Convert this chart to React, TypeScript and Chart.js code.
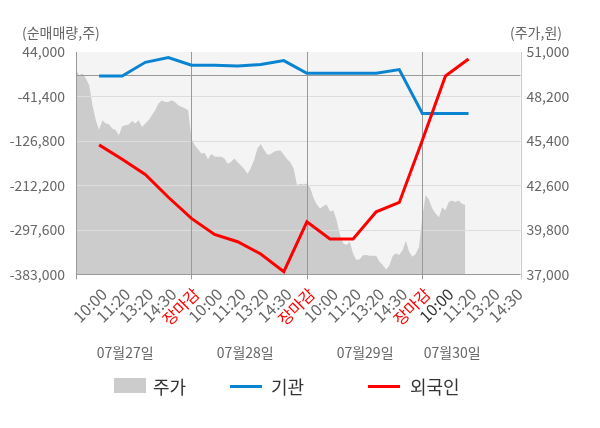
import { useEffect, useRef } from "react";
import { Chart, registerables, Plugin } from "chart.js";

Chart.register(...registerables);

const FONT = "'Noto Sans CJK KR', 'Noto Sans', sans-serif";

// x axis: 5 label slots per trading day
const timeLabels = [
  "10:00", "11:20", "13:20", "14:30", "장마감",
  "10:00", "11:20", "13:20", "14:30", "장마감",
  "10:00", "11:20", "13:20", "14:30", "장마감",
  "10:00", "11:20", "13:20", "14:30",
];
const dateLabels = ["07월27일", "07월28일", "07월29일", "07월30일"];
const dateLabelPos = [2.13, 7.33, 12.52, 16.29];

const leftTicks = [-383000, -297600, -212200, -126800, -41400, 44000];
const rightTicks = [37000, 39800, 42600, 45400, 48200, 51000];

// net buying (shares) at label slots 1..17
const instVals = [
  -2000, -2000, 24200, 33300, 18500, 18500, 17200, 19800, 27500,
  3100, 3100, 3100, 3100, 10200, -74200, -74200, -74200,
];
const foreignVals = [
  -134400, -162000, -191200, -235000, -275600, -306300, -320500, -344100, -378000,
  -282100, -315300, -315300, -262900, -244900, -125400, -2000, 30600,
];

// intraday price samples
const SAMPLES_PER_DAY = 35;
const priceDay1 = [
  49850, 49530, 49640, 49330, 48910, 47650, 46700, 46100, 46700, 46500,
  46450, 46180, 46080, 45760, 46330, 46390, 46440, 46650, 46500, 46700,
  46280, 46500, 46700, 47020, 47330, 47750, 47950, 47855, 47850, 47960,
  47850, 47650, 47540, 47460, 47330,
];
const priceDay2 = [
  45550, 45130, 44870, 44610, 44640, 44250, 44580, 44420, 44400, 44400,
  44290, 43960, 44080, 44290, 44050, 43850, 43630, 43330, 43700, 44200,
  44920, 45200, 44850, 44530, 44560, 44720, 44780, 44800, 44530, 44250,
  44050, 43650, 42620, 42700, 42650,
];
const priceDay3 = [
  42720, 42450, 41800, 41400, 41150, 41300, 41400, 40950, 41040, 40400,
  39500, 38950, 38840, 39050, 38300, 37900, 37950, 38200, 38210, 38170,
  38170, 38170, 37790, 37580, 37300, 37550, 38150, 38320, 38210, 38520,
  39110, 38420, 38100, 38300, 38730,
];
const priceDay4 = [
  40620, 42000, 41700, 41150, 40835, 40600, 41200, 41040, 41560, 41650,
  41560, 41650, 41450, 41360,
];

const DAY_SPAN = 5;
const priceData = [priceDay1, priceDay2, priceDay3, priceDay4].flatMap((day, d) =>
  day.map((v, i) => ({ x: d * DAY_SPAN + (i * DAY_SPAN) / SAMPLES_PER_DAY, y: v }))
);
const instData = instVals.map((v, i) => ({ x: i + 1, y: v }));
const foreignData = foreignVals.map((v, i) => ({ x: i + 1, y: v }));

const BLUE = "#0a84d0";
const RED = "#ff0000";

const framePlugin: Plugin<"line"> = {
  id: "frame",
  beforeDatasetsDraw(chart) {
    const { ctx, chartArea: a } = chart;
    ctx.save();
    ctx.fillStyle = "#f4f4f4";
    ctx.fillRect(a.left, a.top, a.right - a.left, a.bottom - a.top);
    ctx.restore();
  },
  afterDatasetDraw(chart, args) {
    if (args.index !== 0) return;
    const { ctx, chartArea: a } = chart;
    const y = chart.scales.y;
    const x = chart.scales.x;
    ctx.save();
    ctx.lineWidth = 1;
    const hline = (py: number, color: string) => {
      ctx.strokeStyle = color;
      ctx.beginPath();
      ctx.moveTo(a.left, Math.round(py) + 0.5);
      ctx.lineTo(a.right, Math.round(py) + 0.5);
      ctx.stroke();
    };
    const vline = (px: number, color: string) => {
      ctx.strokeStyle = color;
      ctx.beginPath();
      ctx.moveTo(Math.round(px) + 0.5, a.top);
      ctx.lineTo(Math.round(px) + 0.5, a.bottom + 5);
      ctx.stroke();
    };
    leftTicks.slice(1, -1).forEach((v) => hline(y.getPixelForValue(v), "#dddddd"));
    hline(y.getPixelForValue(0), "#999999");
    [0, 5, 10, 15].forEach((v) => vline(x.getPixelForValue(v), "#999999"));
    vline(a.right, "#cccccc");
    hline(a.bottom, "#999999");
    ctx.restore();
  },
  afterDraw(chart) {
    const { ctx } = chart;
    const x = chart.scales.x;
    ctx.save();
    ctx.fillStyle = "#666666";
    ctx.font = `14px ${FONT}`;
    ctx.textBaseline = "middle";
    ctx.textAlign = "left";
    ctx.fillText("(순매매량,주)", 22, 33);
    ctx.textAlign = "right";
    ctx.fillText("(주가,원)", 562, 33);
    ctx.textAlign = "center";
    dateLabels.forEach((d, i) => ctx.fillText(d, x.getPixelForValue(dateLabelPos[i]), 353));
    ctx.restore();
  },
};

function TradeChart() {
  const canvasRef = useRef<HTMLCanvasElement>(null);

  useEffect(() => {
    const ctx = canvasRef.current?.getContext("2d");
    if (!ctx) return;
    Chart.defaults.font.family = FONT;
    const chart = new Chart(ctx, {
      type: "line",
      data: {
        datasets: [
          {
            label: "주가",
            data: priceData,
            yAxisID: "y1",
            borderWidth: 0,
            borderColor: "#cccccc",
            backgroundColor: "#cccccc",
            fill: "start",
            pointRadius: 0,
            order: 3,
          },
          {
            label: "기관",
            data: instData,
            yAxisID: "y",
            borderColor: BLUE,
            backgroundColor: BLUE,
            borderWidth: 3,
            pointRadius: 0,
            fill: false,
            order: 2,
          },
          {
            label: "외국인",
            data: foreignData,
            yAxisID: "y",
            borderColor: RED,
            backgroundColor: RED,
            borderWidth: 3,
            pointRadius: 0,
            fill: false,
            order: 1,
          },
        ],
      },
      options: {
        responsive: false,
        animation: false,
        layout: { padding: { top: 52, left: 0, right: 0, bottom: 0 } },
        plugins: { legend: { display: false }, tooltip: { enabled: false } },
        scales: {
          x: {
            type: "linear",
            min: 0,
            max: 19.25,
            afterBuildTicks: (s) => {
              s.ticks = timeLabels.map((_, i) => ({ value: i + 1 }));
            },
            afterFit: (s) => {
              s.height = 153.7;
            },
            grid: { display: false, drawTicks: false },
            border: { display: false },
            ticks: {
              autoSkip: false,
              minRotation: 45,
              maxRotation: 45,
              padding: 10,
              labelOffset: 5,
              font: { size: 16 },
              color: (c) =>
                timeLabels[c.index] === "장마감" ? RED : c.index === 15 ? "#333333" : "#666666",
              callback: (_v, i) => timeLabels[i],
            },
          },
          y: {
            type: "linear",
            position: "left",
            min: leftTicks[0],
            max: leftTicks[leftTicks.length - 1],
            afterBuildTicks: (s) => {
              s.ticks = leftTicks.map((v) => ({ value: v }));
            },
            afterFit: (s) => {
              s.width = 76;
            },
            grid: { display: false, drawTicks: false },
            border: { display: false },
            ticks: {
              padding: 11,
              font: { size: 14 },
              color: "#666666",
              callback: (v) => Number(v).toLocaleString("en-US"),
            },
          },
          y1: {
            type: "linear",
            position: "right",
            min: rightTicks[0],
            max: rightTicks[rightTicks.length - 1],
            afterBuildTicks: (s) => {
              s.ticks = rightTicks.map((v) => ({ value: v }));
            },
            afterFit: (s) => {
              s.width = 79.5;
            },
            grid: { display: false, drawTicks: false },
            border: { display: false },
            ticks: {
              padding: 6,
              font: { size: 14 },
              color: "#666666",
              callback: (v) => Number(v).toLocaleString("en-US"),
            },
          },
        },
      },
      plugins: [framePlugin],
    });
    return () => chart.destroy();
  }, []);

  return <canvas ref={canvasRef} width={600} height={428} />;
}

const legendText: React.CSSProperties = {
  position: "absolute",
  top: 374,
  height: 24,
  lineHeight: "24px",
  fontSize: 18,
  color: "#333333",
  fontFamily: FONT,
  whiteSpace: "nowrap",
};

export default function App() {
  return (
    <div style={{ position: "absolute", left: 0, top: 0, width: 600, height: 428, background: "#fff" }}>
      <TradeChart />
      <div style={{ position: "absolute", left: 114, top: 378, width: 32, height: 15, background: "#cccccc" }} />
      <span style={{ ...legendText, left: 153 }}>주가</span>
      <div style={{ position: "absolute", left: 230, top: 385, width: 32, height: 3, background: BLUE }} />
      <span style={{ ...legendText, left: 271 }}>기관</span>
      <div style={{ position: "absolute", left: 368, top: 385, width: 32, height: 3, background: RED }} />
      <span style={{ ...legendText, left: 410 }}>외국인</span>
    </div>
  );
}
